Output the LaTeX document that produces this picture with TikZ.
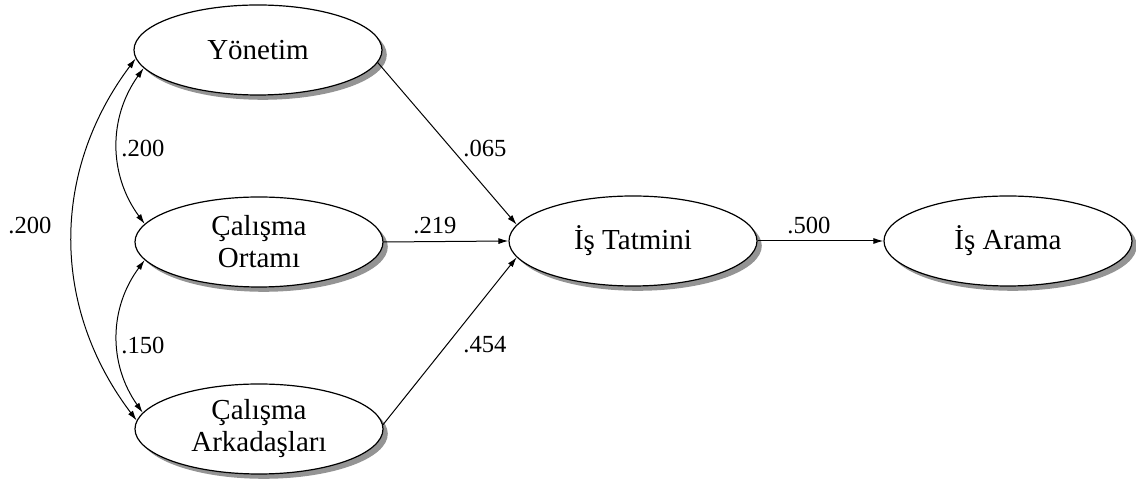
\documentclass[tikz,border=0pt]{standalone}
\usepackage{fontspec}
\setmainfont{Liberation Serif}
\usetikzlibrary{shapes.geometric,shadows,arrows.meta}
\begin{document}
\begin{tikzpicture}[x=0.5pt,y=-0.5pt,
  latent/.style={ellipse, draw, line width=0.6pt, fill=white,
    minimum width=124pt, minimum height=45pt, inner sep=0pt,
    align=center, font=\fontsize{14.5}{16}\selectfont,
    drop shadow={shadow xshift=2.4pt, shadow yshift=-2.4pt, fill=black!42, opacity=1}},
  path/.style={line width=0.5pt, -{Latex[length=5pt,width=3pt]}},
  cov/.style={line width=0.5pt, {Latex[length=5pt,width=3pt]}-{Latex[length=5pt,width=3pt]}},
  coef/.style={font=\fontsize{12.3}{14}\selectfont, inner sep=0pt}]
  \useasboundingbox (0,0) rectangle (1136,485);

  % latent variables
  \node[latent] (yon) at (258,50)  {Yönetim};
  \node[latent] (ort) at (259,242) {Çalışma\\Ortamı};
  \node[latent] (ark) at (259,429) {Çalışma\\Arkadaşları};
  \node[latent] (tat) at (633,241) {İş Tatmini};
  \node[latent] (ara) at (1008,241) {İş Arama};

  % correlations between the exogenous factors
  \draw[cov] (yon.189) to[bend right=36] (ort.171);
  \draw[cov] (ort.189) to[bend right=36] (ark.172);
  \draw[cov] (yon.184) to[bend right=37] (ark.176);

  % structural paths
  \draw[path] (yon.-6) -- (tat.172);
  \draw[path] (ort.east) -- (tat.west);
  \draw[path] (ark.2) -- (tat.188);
  \draw[path] (tat.east) -- (ara.west);

  % coefficients
  \node[coef] (c1) at (143,149) {.200};
  \node[coef] (c2) at (143,345) {.150};
  \node[coef] (c3) at (30,226)  {.200};
  \node[coef] (c4) at (485,148) {.065};
  \node[coef] (c5) at (435,226) {.219};
  \node[coef] (c6) at (485,345) {.454};
  \node[coef] (c7) at (809,226) {.500};
\end{tikzpicture}
\end{document}
